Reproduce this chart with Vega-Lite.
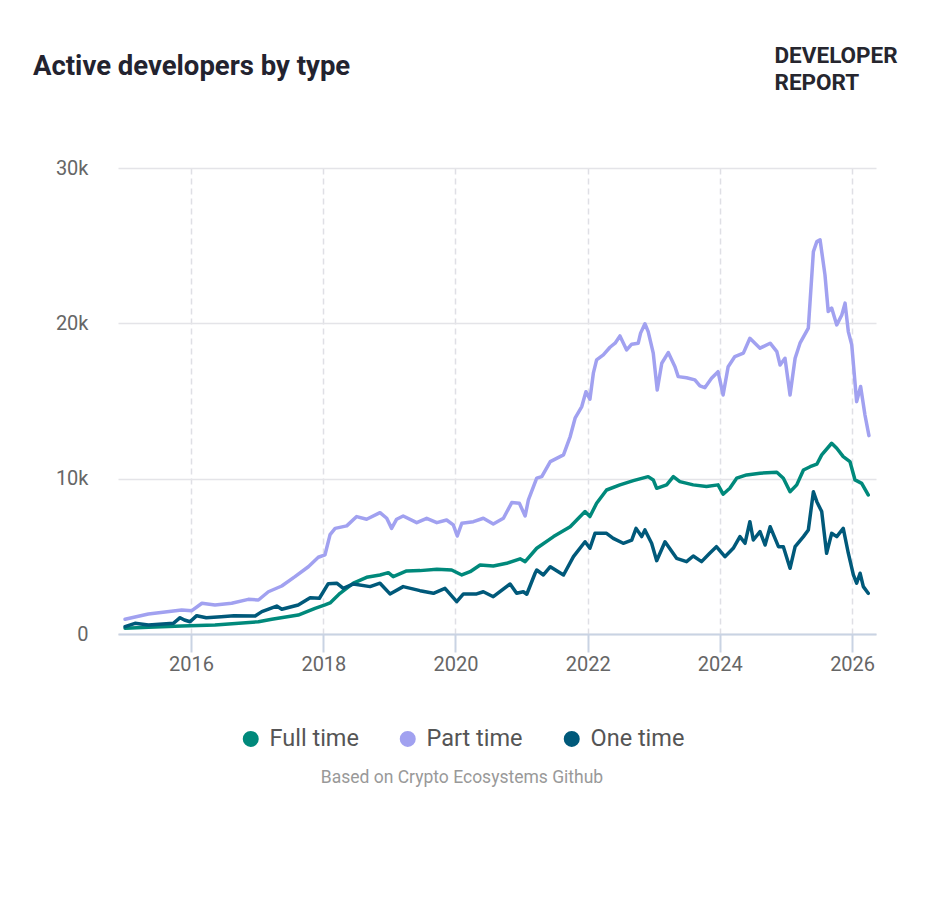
{
  "$schema": "https://vega.github.io/schema/vega-lite/v6.json",
  "width": 758,
  "height": 466,
  "autosize": {"type": "none"},
  "padding": {"left": 118, "top": 168, "right": 54, "bottom": 264},
  "background": "white",
  "config": {"font": "Roboto", "view": {"stroke": null}},
  "title": {
    "text": "Active developers by type",
    "anchor": "start", "frame": "group", "dx": -85, "offset": -58, "baseline": "alphabetic",
    "fontSize": 27.5, "fontWeight": "bold", "color": "#23232f"
  },
  "data": {"values": [
    {"date": "2015-01-01", "type": "Part time", "devs": 950},
    {"date": "2015-05-10", "type": "Part time", "devs": 1290},
    {"date": "2015-11-10", "type": "Part time", "devs": 1545},
    {"date": "2016-01-05", "type": "Part time", "devs": 1500},
    {"date": "2016-03-01", "type": "Part time", "devs": 1980},
    {"date": "2016-05-12", "type": "Part time", "devs": 1870},
    {"date": "2016-08-12", "type": "Part time", "devs": 1980},
    {"date": "2016-11-12", "type": "Part time", "devs": 2230},
    {"date": "2017-01-07", "type": "Part time", "devs": 2190},
    {"date": "2017-03-03", "type": "Part time", "devs": 2720},
    {"date": "2017-05-16", "type": "Part time", "devs": 3090},
    {"date": "2017-07-28", "type": "Part time", "devs": 3690},
    {"date": "2017-10-10", "type": "Part time", "devs": 4330},
    {"date": "2017-12-04", "type": "Part time", "devs": 4940},
    {"date": "2018-01-10", "type": "Part time", "devs": 5100},
    {"date": "2018-02-07", "type": "Part time", "devs": 6400},
    {"date": "2018-03-07", "type": "Part time", "devs": 6800},
    {"date": "2018-05-10", "type": "Part time", "devs": 6960},
    {"date": "2018-07-04", "type": "Part time", "devs": 7560},
    {"date": "2018-08-28", "type": "Part time", "devs": 7390},
    {"date": "2018-11-10", "type": "Part time", "devs": 7810},
    {"date": "2018-12-17", "type": "Part time", "devs": 7450},
    {"date": "2019-01-13", "type": "Part time", "devs": 6800},
    {"date": "2019-02-10", "type": "Part time", "devs": 7390},
    {"date": "2019-03-18", "type": "Part time", "devs": 7600},
    {"date": "2019-06-01", "type": "Part time", "devs": 7170},
    {"date": "2019-07-26", "type": "Part time", "devs": 7450},
    {"date": "2019-09-20", "type": "Part time", "devs": 7170},
    {"date": "2019-11-13", "type": "Part time", "devs": 7340},
    {"date": "2019-12-20", "type": "Part time", "devs": 7020},
    {"date": "2020-01-11", "type": "Part time", "devs": 6310},
    {"date": "2020-02-05", "type": "Part time", "devs": 7130},
    {"date": "2020-04-09", "type": "Part time", "devs": 7230},
    {"date": "2020-06-03", "type": "Part time", "devs": 7450},
    {"date": "2020-07-28", "type": "Part time", "devs": 7080},
    {"date": "2020-09-22", "type": "Part time", "devs": 7450},
    {"date": "2020-11-07", "type": "Part time", "devs": 8460},
    {"date": "2020-12-19", "type": "Part time", "devs": 8420},
    {"date": "2021-01-20", "type": "Part time", "devs": 7600},
    {"date": "2021-02-07", "type": "Part time", "devs": 8630},
    {"date": "2021-03-25", "type": "Part time", "devs": 10030},
    {"date": "2021-04-22", "type": "Part time", "devs": 10130},
    {"date": "2021-06-08", "type": "Part time", "devs": 11100},
    {"date": "2021-08-20", "type": "Part time", "devs": 11530},
    {"date": "2021-09-26", "type": "Part time", "devs": 12710},
    {"date": "2021-10-23", "type": "Part time", "devs": 13890},
    {"date": "2021-11-29", "type": "Part time", "devs": 14640},
    {"date": "2021-12-22", "type": "Part time", "devs": 15600},
    {"date": "2022-01-13", "type": "Part time", "devs": 15110},
    {"date": "2022-02-01", "type": "Part time", "devs": 16790},
    {"date": "2022-02-19", "type": "Part time", "devs": 17650},
    {"date": "2022-03-28", "type": "Part time", "devs": 17970},
    {"date": "2022-05-04", "type": "Part time", "devs": 18460},
    {"date": "2022-06-01", "type": "Part time", "devs": 18720},
    {"date": "2022-06-28", "type": "Part time", "devs": 19190},
    {"date": "2022-08-04", "type": "Part time", "devs": 18290},
    {"date": "2022-09-01", "type": "Part time", "devs": 18660},
    {"date": "2022-10-07", "type": "Part time", "devs": 18720},
    {"date": "2022-10-20", "type": "Part time", "devs": 19370},
    {"date": "2022-11-13", "type": "Part time", "devs": 19970},
    {"date": "2022-12-01", "type": "Part time", "devs": 19470},
    {"date": "2022-12-29", "type": "Part time", "devs": 18080},
    {"date": "2023-01-20", "type": "Part time", "devs": 15710},
    {"date": "2023-02-14", "type": "Part time", "devs": 17430},
    {"date": "2023-03-22", "type": "Part time", "devs": 18120},
    {"date": "2023-04-28", "type": "Part time", "devs": 17210},
    {"date": "2023-05-16", "type": "Part time", "devs": 16570},
    {"date": "2023-07-01", "type": "Part time", "devs": 16500},
    {"date": "2023-08-16", "type": "Part time", "devs": 16360},
    {"date": "2023-09-13", "type": "Part time", "devs": 15970},
    {"date": "2023-10-10", "type": "Part time", "devs": 15860},
    {"date": "2023-11-16", "type": "Part time", "devs": 16470},
    {"date": "2023-12-22", "type": "Part time", "devs": 16890},
    {"date": "2024-01-19", "type": "Part time", "devs": 15390},
    {"date": "2024-02-16", "type": "Part time", "devs": 17210},
    {"date": "2024-03-24", "type": "Part time", "devs": 17860},
    {"date": "2024-05-10", "type": "Part time", "devs": 18080},
    {"date": "2024-06-15", "type": "Part time", "devs": 19040},
    {"date": "2024-08-10", "type": "Part time", "devs": 18400},
    {"date": "2024-10-05", "type": "Part time", "devs": 18720},
    {"date": "2024-11-11", "type": "Part time", "devs": 18180},
    {"date": "2024-11-29", "type": "Part time", "devs": 17320},
    {"date": "2024-12-26", "type": "Part time", "devs": 17750},
    {"date": "2025-01-23", "type": "Part time", "devs": 15390},
    {"date": "2025-02-20", "type": "Part time", "devs": 17750},
    {"date": "2025-03-19", "type": "Part time", "devs": 18720},
    {"date": "2025-05-04", "type": "Part time", "devs": 19690},
    {"date": "2025-06-01", "type": "Part time", "devs": 24620},
    {"date": "2025-06-20", "type": "Part time", "devs": 25260},
    {"date": "2025-07-08", "type": "Part time", "devs": 25370},
    {"date": "2025-08-04", "type": "Part time", "devs": 23120},
    {"date": "2025-08-22", "type": "Part time", "devs": 20760},
    {"date": "2025-09-10", "type": "Part time", "devs": 20980},
    {"date": "2025-10-08", "type": "Part time", "devs": 19900},
    {"date": "2025-11-05", "type": "Part time", "devs": 20540},
    {"date": "2025-11-23", "type": "Part time", "devs": 21300},
    {"date": "2025-12-11", "type": "Part time", "devs": 19470},
    {"date": "2025-12-30", "type": "Part time", "devs": 18610},
    {"date": "2026-01-26", "type": "Part time", "devs": 14960},
    {"date": "2026-02-17", "type": "Part time", "devs": 15930},
    {"date": "2026-03-13", "type": "Part time", "devs": 14100},
    {"date": "2026-04-04", "type": "Part time", "devs": 12770},

    {"date": "2015-01-01", "type": "Full time", "devs": 370},
    {"date": "2015-05-10", "type": "Full time", "devs": 430},
    {"date": "2015-11-10", "type": "Full time", "devs": 515},
    {"date": "2016-05-12", "type": "Full time", "devs": 580},
    {"date": "2017-01-07", "type": "Full time", "devs": 790},
    {"date": "2017-03-22", "type": "Full time", "devs": 950},
    {"date": "2017-08-15", "type": "Full time", "devs": 1220},
    {"date": "2017-11-16", "type": "Full time", "devs": 1650},
    {"date": "2018-01-10", "type": "Full time", "devs": 1870},
    {"date": "2018-02-07", "type": "Full time", "devs": 2000},
    {"date": "2018-04-03", "type": "Full time", "devs": 2620},
    {"date": "2018-06-16", "type": "Full time", "devs": 3270},
    {"date": "2018-08-28", "type": "Full time", "devs": 3650},
    {"date": "2018-11-10", "type": "Full time", "devs": 3800},
    {"date": "2018-12-26", "type": "Full time", "devs": 3950},
    {"date": "2019-01-22", "type": "Full time", "devs": 3690},
    {"date": "2019-04-06", "type": "Full time", "devs": 4060},
    {"date": "2019-06-19", "type": "Full time", "devs": 4080},
    {"date": "2019-09-20", "type": "Full time", "devs": 4170},
    {"date": "2019-12-11", "type": "Full time", "devs": 4120},
    {"date": "2020-02-05", "type": "Full time", "devs": 3800},
    {"date": "2020-03-22", "type": "Full time", "devs": 4010},
    {"date": "2020-05-16", "type": "Full time", "devs": 4440},
    {"date": "2020-07-28", "type": "Full time", "devs": 4380},
    {"date": "2020-10-10", "type": "Full time", "devs": 4550},
    {"date": "2020-12-23", "type": "Full time", "devs": 4840},
    {"date": "2021-01-20", "type": "Full time", "devs": 4660},
    {"date": "2021-03-25", "type": "Full time", "devs": 5520},
    {"date": "2021-06-26", "type": "Full time", "devs": 6270},
    {"date": "2021-09-26", "type": "Full time", "devs": 6910},
    {"date": "2021-12-17", "type": "Full time", "devs": 7880},
    {"date": "2022-01-13", "type": "Full time", "devs": 7560},
    {"date": "2022-02-19", "type": "Full time", "devs": 8420},
    {"date": "2022-04-15", "type": "Full time", "devs": 9270},
    {"date": "2022-06-28", "type": "Full time", "devs": 9600},
    {"date": "2022-09-10", "type": "Full time", "devs": 9870},
    {"date": "2022-12-01", "type": "Full time", "devs": 10130},
    {"date": "2022-12-29", "type": "Full time", "devs": 9920},
    {"date": "2023-01-17", "type": "Full time", "devs": 9380},
    {"date": "2023-03-13", "type": "Full time", "devs": 9600},
    {"date": "2023-04-19", "type": "Full time", "devs": 10130},
    {"date": "2023-05-25", "type": "Full time", "devs": 9810},
    {"date": "2023-08-07", "type": "Full time", "devs": 9600},
    {"date": "2023-10-19", "type": "Full time", "devs": 9490},
    {"date": "2023-12-22", "type": "Full time", "devs": 9600},
    {"date": "2024-01-19", "type": "Full time", "devs": 9000},
    {"date": "2024-02-25", "type": "Full time", "devs": 9380},
    {"date": "2024-04-03", "type": "Full time", "devs": 10030},
    {"date": "2024-05-28", "type": "Full time", "devs": 10240},
    {"date": "2024-08-10", "type": "Full time", "devs": 10350},
    {"date": "2024-11-11", "type": "Full time", "devs": 10410},
    {"date": "2024-12-17", "type": "Full time", "devs": 10030},
    {"date": "2025-01-23", "type": "Full time", "devs": 9160},
    {"date": "2025-03-01", "type": "Full time", "devs": 9600},
    {"date": "2025-04-07", "type": "Full time", "devs": 10560},
    {"date": "2025-05-14", "type": "Full time", "devs": 10770},
    {"date": "2025-06-20", "type": "Full time", "devs": 10930},
    {"date": "2025-07-17", "type": "Full time", "devs": 11530},
    {"date": "2025-09-10", "type": "Full time", "devs": 12280},
    {"date": "2025-10-08", "type": "Full time", "devs": 11960},
    {"date": "2025-11-13", "type": "Full time", "devs": 11420},
    {"date": "2025-12-20", "type": "Full time", "devs": 11100},
    {"date": "2026-01-17", "type": "Full time", "devs": 9920},
    {"date": "2026-02-23", "type": "Full time", "devs": 9700},
    {"date": "2026-03-31", "type": "Full time", "devs": 8950},

    {"date": "2015-01-01", "type": "One time", "devs": 470},
    {"date": "2015-02-25", "type": "One time", "devs": 690},
    {"date": "2015-05-10", "type": "One time", "devs": 580},
    {"date": "2015-09-25", "type": "One time", "devs": 690},
    {"date": "2015-11-01", "type": "One time", "devs": 1050},
    {"date": "2015-11-25", "type": "One time", "devs": 900},
    {"date": "2015-12-26", "type": "One time", "devs": 790},
    {"date": "2016-02-01", "type": "One time", "devs": 1180},
    {"date": "2016-03-25", "type": "One time", "devs": 1050},
    {"date": "2016-06-15", "type": "One time", "devs": 1110},
    {"date": "2016-08-25", "type": "One time", "devs": 1180},
    {"date": "2016-12-20", "type": "One time", "devs": 1160},
    {"date": "2017-01-26", "type": "One time", "devs": 1440},
    {"date": "2017-04-18", "type": "One time", "devs": 1800},
    {"date": "2017-05-16", "type": "One time", "devs": 1590},
    {"date": "2017-08-15", "type": "One time", "devs": 1870},
    {"date": "2017-10-20", "type": "One time", "devs": 2340},
    {"date": "2017-12-10", "type": "One time", "devs": 2300},
    {"date": "2018-01-28", "type": "One time", "devs": 3240},
    {"date": "2018-03-16", "type": "One time", "devs": 3270},
    {"date": "2018-04-21", "type": "One time", "devs": 2940},
    {"date": "2018-06-16", "type": "One time", "devs": 3220},
    {"date": "2018-09-16", "type": "One time", "devs": 3050},
    {"date": "2018-11-10", "type": "One time", "devs": 3270},
    {"date": "2019-01-04", "type": "One time", "devs": 2580},
    {"date": "2019-03-18", "type": "One time", "devs": 3050},
    {"date": "2019-06-19", "type": "One time", "devs": 2790},
    {"date": "2019-09-01", "type": "One time", "devs": 2620},
    {"date": "2019-11-04", "type": "One time", "devs": 2940},
    {"date": "2020-01-08", "type": "One time", "devs": 2080},
    {"date": "2020-02-14", "type": "One time", "devs": 2580},
    {"date": "2020-04-27", "type": "One time", "devs": 2580},
    {"date": "2020-06-03", "type": "One time", "devs": 2720},
    {"date": "2020-07-28", "type": "One time", "devs": 2400},
    {"date": "2020-10-29", "type": "One time", "devs": 3220},
    {"date": "2020-12-04", "type": "One time", "devs": 2620},
    {"date": "2021-01-10", "type": "One time", "devs": 2720},
    {"date": "2021-01-29", "type": "One time", "devs": 2560},
    {"date": "2021-03-16", "type": "One time", "devs": 3910},
    {"date": "2021-03-25", "type": "One time", "devs": 4120},
    {"date": "2021-05-01", "type": "One time", "devs": 3800},
    {"date": "2021-06-08", "type": "One time", "devs": 4330},
    {"date": "2021-08-20", "type": "One time", "devs": 3800},
    {"date": "2021-10-14", "type": "One time", "devs": 4980},
    {"date": "2021-12-17", "type": "One time", "devs": 5940},
    {"date": "2022-01-13", "type": "One time", "devs": 5520},
    {"date": "2022-02-10", "type": "One time", "devs": 6480},
    {"date": "2022-04-15", "type": "One time", "devs": 6480},
    {"date": "2022-05-22", "type": "One time", "devs": 6160},
    {"date": "2022-07-16", "type": "One time", "devs": 5840},
    {"date": "2022-09-01", "type": "One time", "devs": 6050},
    {"date": "2022-09-25", "type": "One time", "devs": 6800},
    {"date": "2022-10-26", "type": "One time", "devs": 6270},
    {"date": "2022-11-13", "type": "One time", "devs": 6700},
    {"date": "2022-12-20", "type": "One time", "devs": 5840},
    {"date": "2023-01-17", "type": "One time", "devs": 4720},
    {"date": "2023-03-04", "type": "One time", "devs": 5940},
    {"date": "2023-05-07", "type": "One time", "devs": 4870},
    {"date": "2023-07-01", "type": "One time", "devs": 4660},
    {"date": "2023-08-07", "type": "One time", "devs": 5020},
    {"date": "2023-09-22", "type": "One time", "devs": 4660},
    {"date": "2023-11-06", "type": "One time", "devs": 5200},
    {"date": "2023-12-13", "type": "One time", "devs": 5620},
    {"date": "2024-01-29", "type": "One time", "devs": 4980},
    {"date": "2024-03-15", "type": "One time", "devs": 5520},
    {"date": "2024-04-21", "type": "One time", "devs": 6270},
    {"date": "2024-05-19", "type": "One time", "devs": 5840},
    {"date": "2024-06-15", "type": "One time", "devs": 7230},
    {"date": "2024-07-04", "type": "One time", "devs": 6050},
    {"date": "2024-08-10", "type": "One time", "devs": 6590},
    {"date": "2024-09-07", "type": "One time", "devs": 5730},
    {"date": "2024-10-05", "type": "One time", "devs": 6910},
    {"date": "2024-11-20", "type": "One time", "devs": 5620},
    {"date": "2024-12-17", "type": "One time", "devs": 5620},
    {"date": "2025-01-23", "type": "One time", "devs": 4230},
    {"date": "2025-02-20", "type": "One time", "devs": 5620},
    {"date": "2025-04-07", "type": "One time", "devs": 6270},
    {"date": "2025-05-04", "type": "One time", "devs": 6700},
    {"date": "2025-06-01", "type": "One time", "devs": 9160},
    {"date": "2025-06-20", "type": "One time", "devs": 8520},
    {"date": "2025-07-17", "type": "One time", "devs": 7880},
    {"date": "2025-08-13", "type": "One time", "devs": 5200},
    {"date": "2025-09-10", "type": "One time", "devs": 6480},
    {"date": "2025-10-08", "type": "One time", "devs": 6270},
    {"date": "2025-11-13", "type": "One time", "devs": 6800},
    {"date": "2025-12-11", "type": "One time", "devs": 5200},
    {"date": "2026-01-08", "type": "One time", "devs": 3800},
    {"date": "2026-01-26", "type": "One time", "devs": 3270},
    {"date": "2026-02-14", "type": "One time", "devs": 3910},
    {"date": "2026-03-04", "type": "One time", "devs": 3050},
    {"date": "2026-03-31", "type": "One time", "devs": 2620}
  ]},
  "mark": {"type": "line", "strokeWidth": 3.5, "strokeJoin": "round", "strokeCap": "round"},
  "encoding": {
    "x": {
      "field": "date", "type": "temporal",
      "scale": {"domain": [{"year": 2014, "month": 11, "date": 23}, {"year": 2026, "month": 5, "date": 13}]},
      "axis": {
        "title": null, "format": "%Y",
        "values": [{"year": 2016}, {"year": 2018}, {"year": 2020}, {"year": 2022}, {"year": 2024}, {"year": 2026}],
        "grid": true, "gridDash": [6, 4], "gridColor": "#dfdfe5", "gridWidth": 1.5,
        "domainColor": "#c9d3e3", "domainWidth": 2,
        "tickColor": "#c9d3e3", "tickWidth": 2, "tickSize": 18,
        "labelPadding": 2, "labelFontSize": 20, "labelColor": "#666666"
      }
    },
    "y": {
      "field": "devs", "type": "quantitative",
      "scale": {"domain": [0, 30000], "nice": false},
      "axis": {
        "values": [0, 10000, 20000, 30000],
        "labelExpr": "datum.value === 0 ? '0' : (datum.value / 1000) + 'k'",
        "domain": false, "ticks": false, "labelPadding": 30,
        "labelFontSize": 20, "labelColor": "#666666",
        "gridColor": "#e4e4e8", "gridWidth": 1.5,
        "title": ["DEVELOPER", "REPORT"], "titleAngle": 0, "titleAlign": "left",
        "titleBaseline": "alphabetic", "titleX": 656, "titleY": -106,
        "titleFontSize": 22.5, "titleFontWeight": "bold", "titleColor": "#26262e", "titleLineHeight": 27
      }
    },
    "color": {
      "field": "type", "type": "nominal",
      "scale": {"domain": ["Full time", "Part time", "One time"], "range": ["#00897b", "#a1a1f0", "#00597a"]},
      "legend": {
        "orient": "none", "legendX": 121, "legendY": 559, "direction": "horizontal",
        "symbolType": "circle", "symbolSize": 64, "symbolStrokeWidth": 8,
        "labelFontSize": 23.5, "labelColor": "#555555", "labelOffset": 7, "columnPadding": 28,
        "title": "Based on Crypto Ecosystems Github", "titleOrient": "bottom", "titleAnchor": "middle",
        "titleLimit": 0, "titleFontSize": 17.5, "titleFontWeight": "normal", "titleColor": "#999999", "titlePadding": 10
      }
    }
  }
}
